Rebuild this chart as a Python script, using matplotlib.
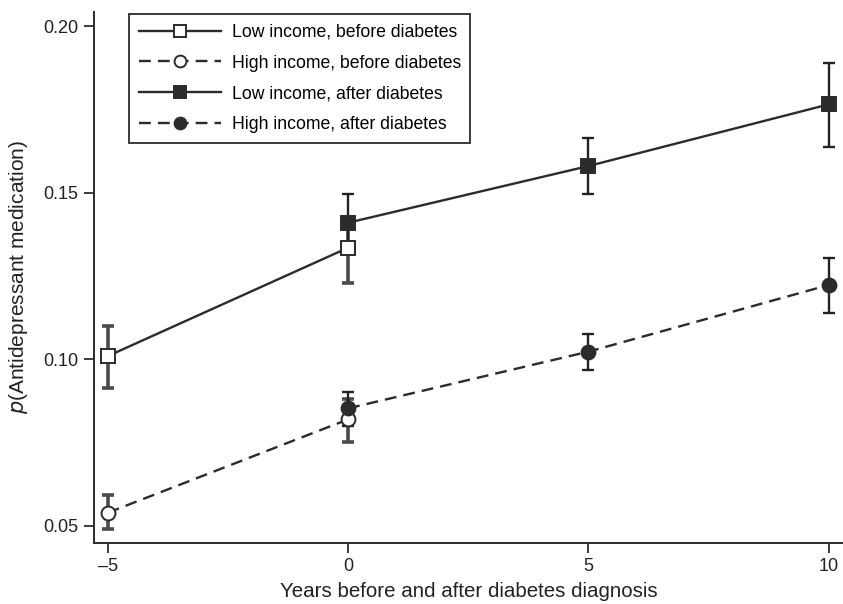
import matplotlib
matplotlib.use("Agg")
import matplotlib.pyplot as plt

plt.rcParams['font.family'] = ['Liberation Sans', 'DejaVu Sans']

# Low income, before diabetes
low_before_x = [-5, 0]
low_before_y = [0.101, 0.1335]
low_before_lo = [0.0915, 0.1228]
low_before_hi = [0.1100, 0.1425]

# High income, before diabetes
high_before_x = [-5, 0]
high_before_y = [0.0540, 0.0820]
high_before_lo = [0.0490, 0.0753]
high_before_hi = [0.0592, 0.0880]

# Low income, after diabetes
low_after_x = [0, 5, 10]
low_after_y = [0.1410, 0.1580, 0.1765]
low_after_lo = [0.1330, 0.1495, 0.1638]
low_after_hi = [0.1496, 0.1665, 0.1890]

# High income, after diabetes
high_after_x = [0, 5, 10]
high_after_y = [0.0853, 0.1023, 0.1223]
high_after_lo = [0.0800, 0.0968, 0.1138]
high_after_hi = [0.0903, 0.1075, 0.1305]

xticks = [-5, 0, 5, 10]
yticks = [0.05, 0.10, 0.15, 0.20]

fig = plt.figure(figsize=(8.43, 6.04), dpi=100)
ax = fig.add_axes([0.1115, 0.101, 0.8885, 0.879])

col = '#2b2b2b'
series = [
    (low_before_x, low_before_y, low_before_lo, low_before_hi, '-', 's', 'white', 'Low income, before diabetes', '#4a4a4a', 2.6),
    (high_before_x, high_before_y, high_before_lo, high_before_hi, '--', 'o', 'white', 'High income, before diabetes', '#4a4a4a', 2.6),
    (low_after_x, low_after_y, low_after_lo, low_after_hi, '-', 's', col, 'Low income, after diabetes', '#222222', 1.7),
    (high_after_x, high_after_y, high_after_lo, high_after_hi, '--', 'o', col, 'High income, after diabetes', '#222222', 1.7),
]

for x, y, lo, hi, ls, mk, fc, label, ecol, elw in series:
    yerr = [[v - l for v, l in zip(y, lo)], [h - v for v, h in zip(y, hi)]]
    ax.errorbar(x, y, yerr=yerr, fmt='none', ecolor=ecol, elinewidth=elw,
                capsize=4.5, capthick=elw, zorder=2)
    ax.plot(x, y, linestyle=ls, marker=mk, color=col, markerfacecolor=fc,
            markeredgecolor=col, markersize=10, markeredgewidth=1.4,
            linewidth=1.7, dashes=(5, 3) if ls == '--' else (None, None),
            label=label, zorder=3)

ax.set_xlim(-5.29, 10.3)
ax.set_ylim(0.0449, 0.2042)
ax.set_xticks(xticks)
ax.set_xticklabels(['\u20135', '0', '5', '10'])
ax.set_yticks(yticks)
ax.set_yticklabels(['0.05', '0.10', '0.15', '0.20'])
ax.tick_params(labelsize=13, length=7, width=1.3, pad=4, color=col, labelcolor='#222222')

for s in ['top', 'right']:
    ax.spines[s].set_visible(False)
for s in ['left', 'bottom']:
    ax.spines[s].set_linewidth(1.4)
    ax.spines[s].set_color(col)

ax.set_xlabel('Years before and after diabetes diagnosis', fontsize=14.8, color='#222222', labelpad=5)
ax.set_ylabel('$p$(Antidepressant medication)', fontsize=15, color='#222222', labelpad=10)

leg = ax.legend(loc='upper left', bbox_to_anchor=(0.047, 0.996), borderaxespad=0,
                fontsize=12.7, handlelength=4.65, frameon=True, fancybox=False,
                edgecolor=col, framealpha=1, borderpad=0.55, labelspacing=0.78,
                handletextpad=0.6, markerscale=0.85)
leg.get_frame().set_linewidth(1.3)

fig.savefig('out.png', dpi=100)
